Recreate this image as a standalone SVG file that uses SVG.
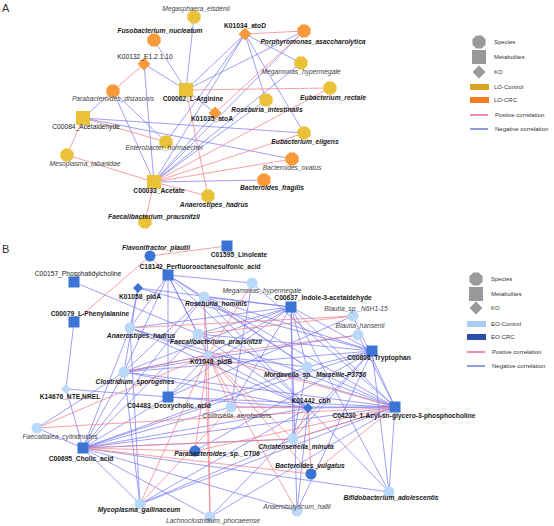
<svg xmlns="http://www.w3.org/2000/svg" xmlns:xlink="http://www.w3.org/1999/xlink" width="554" height="526" viewBox="0 0 554 526">
<defs>
<style>
text{font-family:"Liberation Sans",Arial,sans-serif;font-size:6.7px;fill:#1a1a1a;text-anchor:middle}
.b{font-weight:bold}
.i{font-style:italic;fill:#444}
.bi{font-weight:bold;font-style:italic}
.lg{font-size:6px;text-anchor:start;fill:#333}
.pan{font-size:11px;text-anchor:start;fill:#333}
.ep{stroke:#F27883;stroke-width:0.7;fill:none}
.en{stroke:#7676F0;stroke-width:0.7;fill:none}
.yl{fill:#EAC23A}
.or{fill:#F89A3C}
.lb{fill:#BAD8F8}
.db{fill:#3C74D6}
.gr{fill:#999}
</style>
<polygon id="oct" points="6.6,2.7 2.7,6.6 -2.7,6.6 -6.6,2.7 -6.6,-2.7 -2.7,-6.6 2.7,-6.6 6.6,-2.7"/>
<rect id="sq" x="-7" y="-7" width="14" height="14"/>
<polygon id="dia" points="0,-6.5 6.5,0 0,6.5 -6.5,0"/>
<circle id="cir" r="5.5"/>
<rect id="sqb" x="-5.5" y="-5.5" width="11" height="11"/>
<polygon id="diab" points="0,-5 5,0 0,5 -5,0"/>
</defs>
<rect width="554" height="526" fill="#fff"/>
<text class="pan" x="2" y="12">A</text>
<text class="pan" x="2" y="253">B</text>

<!-- Panel A connectors -->
<g id="edgesA">
<path class="en" d="M194,17L186,90M154,40L186,90M144,64L186,90M245,34L186,90M304,31L186,90M245,34L301,63M245,34L266,100M245,34L304,133M245,34L154,182M245,34L166,142M186,90L215,113M144,64L154,182M113,91L83,118M113,91L166,142M113,91L154,182M83,118L292,159M83,118L304,133M154,182L215,113M154,182L264,180M154,182L304,31M154,182L266,100M154,182L301,63"/>
<path class="ep" d="M144,64L113,91M245,34L304,31M186,90L330,88M186,90L208,196M215,113L304,31M83,118L67,155M83,118L166,142M67,155L154,182M154,182L145,222M154,182L208,196M154,182L304,133M154,182L330,88M154,182L292,159"/>
</g>

<!-- Panel A nodes -->
<g id="A_Megasphaera_elsdenii"><use href="#oct" x="194" y="17" class="yl"/><text class="i" x="196" y="11">Megasphaera_elsdenii</text></g>
<g id="A_Fusobacterium_nucleatum"><use href="#oct" x="154" y="40" class="or"/><text class="bi" x="160" y="33">Fusobacterium_nucleatum</text></g>
<g id="A_K01034_atoD"><use href="#dia" x="245" y="34" class="or"/><text class="b" x="245" y="28">K01034_atoD</text></g>
<g id="A_Porphyromonas_asaccharolytica"><use href="#oct" x="304" y="31" class="or"/><text class="bi" x="313" y="44">Porphyromonas_asaccharolytica</text></g>
<g id="A_K00132"><use href="#dia" x="144" y="64" class="or"/><text x="145" y="59">K00132_E1.2.1.10</text></g>
<g id="A_C00062"><use href="#sq" x="186" y="90" class="yl"/><text class="b" x="193" y="101">C00062_L-Arginine</text></g>
<g id="A_Megamonas_hypermegale"><use href="#oct" x="301" y="63" class="yl"/><text class="i" x="301" y="74">Megamonas_hypermegale</text></g>
<g id="A_Parabacteroides_distasonis"><use href="#oct" x="113" y="91" class="or"/><text class="i" x="113" y="101">Parabacteroides_distasonis</text></g>
<g id="A_Eubacterium_rectale"><use href="#oct" x="330" y="88" class="yl"/><text class="bi" x="333" y="100">Eubacterium_rectale</text></g>
<g id="A_Roseburia_intestinalis"><use href="#oct" x="266" y="100" class="yl"/><text class="bi" x="267" y="112">Roseburia_intestinalis</text></g>
<g id="A_K01035_atoA"><use href="#dia" x="215" y="113" class="or"/><text class="b" x="212" y="121">K01035_atoA</text></g>
<g id="A_C00084"><use href="#sq" x="83" y="118" class="yl"/><text x="86" y="129">C00084_Acetaldehyde</text></g>
<g id="A_Enterobacter_hormaechei"><use href="#oct" x="166" y="142" class="yl"/><text class="i" x="164" y="150">Enterobacter_hormaechei</text></g>
<g id="A_Eubacterium_eligens"><use href="#oct" x="304" y="133" class="yl"/><text class="bi" x="305" y="144">Eubacterium_eligens</text></g>
<g id="A_Mesoplasma_tabanidae"><use href="#oct" x="67" y="155" class="yl"/><text class="i" x="85" y="166">Mesoplasma_tabanidae</text></g>
<g id="A_Bacteroides_ovatus"><use href="#oct" x="292" y="159" class="or"/><text class="i" x="292" y="170">Bacteroides_ovatus</text></g>
<g id="A_C00033"><use href="#sq" x="154" y="182" class="yl"/><text class="b" x="159" y="193">C00033_Acetate</text></g>
<g id="A_Bacteroides_fragilis"><use href="#oct" x="264" y="180" class="or"/><text class="bi" x="272" y="190">Bacteroides_fragilis</text></g>
<g id="A_Anaerostipes_hadrus"><use href="#oct" x="208" y="196" class="yl"/><text class="bi" x="214" y="207">Anaerostipes_hadrus</text></g>
<g id="A_Faecalibacterium_prausnitzii"><use href="#oct" x="145" y="222" class="yl"/><text class="bi" x="154" y="219">Faecalibacterium_prausnitzii</text></g>

<!-- Legend A -->
<g id="legendA">
<use href="#oct" x="479" y="42" class="gr"/><text class="lg" x="494" y="44">Species</text>
<use href="#sq" x="479" y="57" class="gr"/><text class="lg" x="494" y="59">Metabolites</text>
<use href="#dia" x="479" y="72" class="gr"/><text class="lg" x="494" y="74">KO</text>
<rect x="470" y="84" width="19" height="6" fill="#D9A521"/><text class="lg" x="494" y="89">LO-Control</text>
<rect x="470" y="97" width="19" height="6" fill="#F47B20"/><text class="lg" x="494" y="102">LO-CRC</text>
<line x1="470" y1="115" x2="488" y2="115" stroke="#E8407A" stroke-width="1.2"/><text class="lg" x="495" y="117">Postive correlation</text>
<line x1="470" y1="129" x2="488" y2="129" stroke="#4A5DC0" stroke-width="1.2"/><text class="lg" x="495" y="131">Negative correlation</text>
</g>

<!-- Panel B connectors -->
<g id="edgesB">
<path class="en" d="M168,275L252,283M168,275L130,328M168,275L198,334M168,275L124,372M168,275L208,355M168,275L204,297M168,275L308,408M168,275L307,367M168,275L168,397M74,282L198,334M138,288L130,328M138,288L124,372M138,288L291,307M138,288L372,351M74,322L66,389M66,389L83,448M66,389L168,397M204,297L291,307M204,297L372,351M204,297L308,408M204,297L395,407M204,297L124,372M204,297L83,448M204,297L307,367M130,328L291,307M130,328L83,448M130,328L308,408M130,328L395,407M130,328L140,504M198,334L291,307M198,334L372,351M198,334L395,407M198,334L308,408M198,334L83,448M291,307L124,372M291,307L168,397M291,307L231,407M291,307L293,439M291,307L297,511M291,307L389,492M291,307L372,351M291,307L395,407M291,307L307,367M291,307L208,355M353,316L395,407M358,335L395,407M353,316L168,397M358,335L124,372M372,351L307,367M372,351L293,439M372,351L389,492M372,351L124,372M372,351L195,451M372,351L83,448M208,355L124,372M208,355L130,328M208,355L204,297M208,355L307,367M208,355L168,397M208,355L308,408M124,372L308,408M124,372L395,407M124,372L83,448M124,372L140,504M307,367L395,407M307,367L83,448M307,367L293,439M168,397L308,408M168,397L83,448M168,397L395,407M231,407L83,448M231,407L395,407M308,408L395,407M308,408L83,448M308,408L140,504M308,408L389,492M308,408L297,511M395,407L389,492M395,407L293,439M293,439L83,448M293,439L140,504M83,448L389,492M83,448L297,511M83,448L210,517M83,448L140,504M83,448L37,428M83,448L395,407M140,504L395,407M210,517L395,407M210,517L372,351M297,511L372,351M37,428L124,372M252,283L395,407M252,283L231,407"/>
<path class="ep" d="M150,256L227,246M150,256L168,275M150,256L74,322M252,283L208,355M198,334L353,316M208,355L358,335M37,428L208,355M208,355L195,451M208,355L231,407M208,355L293,439M208,355L311,474M208,355L297,511M208,355L210,517M208,355L140,504M208,355L395,407M124,372L208,355M83,448L195,451M83,448L311,474M83,448L293,439M308,408L293,439M308,408L311,474M308,408L231,407M395,407L311,474M395,407L195,451M395,407L293,439M130,328L353,316M204,297L210,517M37,428L395,407M140,504L231,407"/>
</g>

<!-- Panel B nodes -->
<g id="B_Flavonifractor_plautii"><use href="#cir" x="150" y="256" class="db"/><text class="bi" x="156" y="250">Flavonifractor_plautii</text></g>
<g id="B_C01595"><use href="#sqb" x="227" y="246" class="db"/><text class="b" x="239" y="257">C01595_Linoleate</text></g>
<g id="B_C18142"><use href="#sqb" x="168" y="275" class="db"/><text class="b" x="200" y="269">C18142_Perfluorooctanesulfonic_acid</text></g>
<g id="B_C00157"><use href="#sqb" x="74" y="282" class="db"/><text x="78" y="276">C00157_Phosphatidylcholine</text></g>
<g id="B_K01058"><use href="#diab" x="138" y="288" class="db"/><text class="b" x="140" y="299">K01058_pldA</text></g>
<g id="B_Megamonas_hypermegale"><use href="#cir" x="252" y="283" class="lb"/><text class="i" x="262" y="293">Megamonas_hypermegale</text></g>
<g id="B_Roseburia_hominis"><use href="#cir" x="204" y="297" class="lb"/><text class="bi" x="216" y="306">Roseburia_hominis</text></g>
<g id="B_C00637"><use href="#sqb" x="291" y="307" class="db"/><text class="b" x="323" y="300">C00637_Indole-3-acetaldehyde</text></g>
<g id="B_Blautia_sp"><use href="#cir" x="353" y="316" class="lb"/><text class="i" x="356" y="311">Blautia_sp._N6H1-15</text></g>
<g id="B_Blautia_hansenii"><use href="#cir" x="358" y="335" class="lb"/><text class="i" x="360" y="328">Blautia_hansenii</text></g>
<g id="B_C00079"><use href="#sqb" x="74" y="322" class="db"/><text class="b" x="90" y="316">C00079_L-Phenylalanine</text></g>
<g id="B_Anaerostipes_hadrus"><use href="#cir" x="130" y="328" class="lb"/><text class="bi" x="141" y="338">Anaerostipes_hadrus</text></g>
<g id="B_Faecalibacterium_prausnitzii"><use href="#cir" x="198" y="334" class="lb"/><text class="bi" x="216" y="344">Faecalibacterium_prausnitzii</text></g>
<g id="B_K01048"><use href="#diab" x="208" y="355" class="lb"/><text class="b" x="211" y="364">K01048_pldB</text></g>
<g id="B_Clostridium_sporogenes"><use href="#cir" x="124" y="372" class="lb"/><text class="bi" x="135" y="384">Clostridium_sporogenes</text></g>
<g id="B_Mordavella"><use href="#cir" x="307" y="367" class="lb"/><text class="bi" x="315" y="377">Mordavella_sp._Marseille-P3756</text></g>
<g id="B_C00806"><use href="#sqb" x="372" y="351" class="db"/><text class="b" x="379" y="360">C00806_Tryptophan</text></g>
<g id="B_K14676"><use href="#diab" x="66" y="389" class="lb"/><text class="b" x="70" y="399">K14676_NTE,NREL</text></g>
<g id="B_C04483"><use href="#sqb" x="168" y="397" class="db"/><text class="b" x="169" y="408">C04483_Deoxycholic_acid</text></g>
<g id="B_Collinsella_aerofaciens"><use href="#cir" x="231" y="407" class="lb"/><text class="i" x="237" y="418">Collinsella_aerofaciens</text></g>
<g id="B_K01442"><use href="#diab" x="308" y="408" class="db"/><text class="b" x="311" y="403">K01442_cbh</text></g>
<g id="B_C04230"><use href="#sqb" x="395" y="407" class="db"/><text class="b" x="404" y="418">C04230_1-Acyl-sn-glycero-3-phosphocholine</text></g>
<g id="B_Christensenella_minuta"><use href="#cir" x="293" y="439" class="lb"/><text class="bi" x="296" y="449">Christensenella_minuta</text></g>
<g id="B_Faecalitalea_cylindroides"><use href="#cir" x="37" y="428" class="lb"/><text class="i" x="60" y="439">Faecalitalea_cylindroides</text></g>
<g id="B_C00695"><use href="#sqb" x="83" y="448" class="db"/><text class="b" x="81" y="461">C00695_Cholic_acid</text></g>
<g id="B_Parabacteroides_sp"><use href="#cir" x="195" y="451" class="db"/><text class="bi" x="217" y="456">Parabacteroides_sp._CT06</text></g>
<g id="B_Bacteroides_vulgatus"><use href="#cir" x="311" y="474" class="db"/><text class="bi" x="310" y="468">Bacteroides_vulgatus</text></g>
<g id="B_Bifidobacterium_adolescentis"><use href="#cir" x="389" y="492" class="lb"/><text class="bi" x="391" y="500">Bifidobacterium_adolescentis</text></g>
<g id="B_Mycoplasma_gallinaceum"><use href="#cir" x="140" y="504" class="lb"/><text class="bi" x="139" y="512">Mycoplasma_gallinaceum</text></g>
<g id="B_Anaerobutyricum_hallii"><use href="#cir" x="297" y="511" class="lb"/><text class="i" x="297" y="509">Anaerobutyricum_hallii</text></g>
<g id="B_Lachnoclostridium_phocaeense"><use href="#cir" x="210" y="517" class="lb"/><text class="i" x="213" y="523">Lachnoclostridium_phocaeense</text></g>

<!-- Legend B -->
<g id="legendB">
<use href="#oct" x="476" y="279" class="gr"/><text class="lg" x="491" y="281">Species</text>
<use href="#sq" x="476" y="294" class="gr"/><text class="lg" x="491" y="296">Metabolites</text>
<use href="#dia" x="476" y="308" class="gr"/><text class="lg" x="491" y="310">KO</text>
<rect x="467" y="321" width="19" height="6" fill="#A9CBF4"/><text class="lg" x="491" y="326">EO-Control</text>
<rect x="467" y="334" width="19" height="6" fill="#2D4FA8"/><text class="lg" x="491" y="339">EO-CRC</text>
<line x1="467" y1="352" x2="485" y2="352" stroke="#E8407A" stroke-width="1.2"/><text class="lg" x="492" y="354">Postive correlation</text>
<line x1="467" y1="366" x2="485" y2="366" stroke="#4A5DC0" stroke-width="1.2"/><text class="lg" x="492" y="368">Negative correlation</text>
</g>
</svg>
